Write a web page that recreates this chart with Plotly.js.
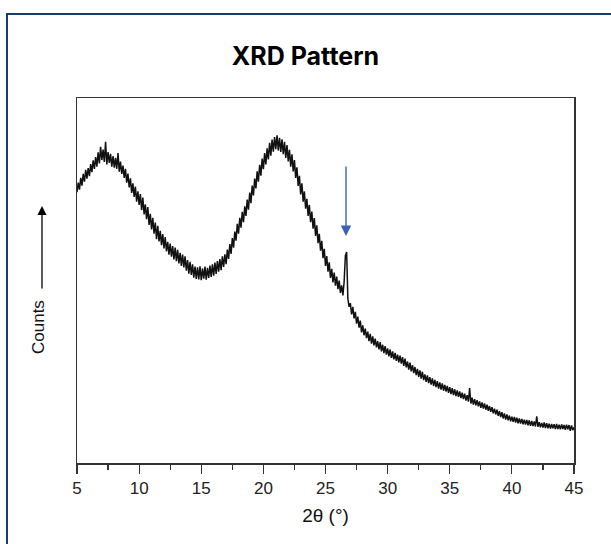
<!DOCTYPE html>
<html>
<head>
<meta charset="utf-8">
<script src="https://cdn.plot.ly/plotly-3.0.1.min.js"></script>
<style>
html, body { margin: 0; padding: 0; background: #ffffff; overflow: hidden; }
#wrap { position: relative; width: 611px; height: 544px; overflow: hidden; }
#chart { position: absolute; left: 0; top: 0; width: 611px; height: 544px; }
#frame { position: absolute; left: 6px; top: 13px; width: 700px; height: 700px; border: 2px solid #1d3a6e; pointer-events: none; }
</style>
</head>
<body>
<div id="wrap">
  <div id="chart"></div>
  <div id="frame"></div>
</div>
<script>
// Scan grid (degrees 2θ)
const thetaStart = 5.0;
const thetaStep = 0.1;

const counts = [
  742,768,749,781,760,792,771,803,779,808,
  786,819,797,829,806,838,812,851,821,866,
  830,859,825,880,818,852,822,847,812,841,
  809,836,806,849,798,826,792,815,781,806,
  768,793,755,780,740,766,729,757,716,744,
  707,737,693,727,681,709,668,701,652,683,
  640,672,628,659,613,650,607,636,597,627,
  588,619,580,606,571,601,565,594,558,590,
  553,584,547,576,540,571,536,566,527,556,
  519,551,515,544,508,538,504,536,503,539,
  501,533,505,538,502,535,507,541,510,544,
  513,549,518,553,524,559,528,566,537,572,
  545,585,559,600,573,616,590,634,609,655,
  628,672,645,688,660,703,677,722,694,741,
  712,760,733,779,752,799,771,817,787,834,
  805,849,818,862,832,877,842,886,853,893,
  860,898,856,891,852,887,846,880,836,871,
  826,858,812,846,799,830,781,810,759,787,
  736,766,716,744,697,724,677,707,660,689,
  642,671,622,651,602,628,582,609,561,587,
  540,567,524,550,507,532,495,522,486,511,
  476,500,466,487,459,497,568,578,450,428,
  438,407,428,396,414,382,401,371,390,358,
  377,350,368,342,360,334,354,327,347,322,
  341,317,334,311,331,306,324,301,320,297,
  314,292,311,288,306,284,302,280,297,276,
  294,272,290,266,286,262,278,256,275,251,
  268,246,263,241,258,236,254,231,250,227,
  243,222,240,219,235,215,232,211,228,208,
  224,204,221,201,218,198,214,196,211,192,
  208,189,205,186,202,183,199,181,196,178,
  193,175,190,171,186,168,205,163,179,160,
  175,158,172,155,169,151,166,149,163,146,
  160,143,156,140,153,136,149,133,146,129,
  142,126,139,122,136,119,133,117,130,114,
  127,113,126,111,124,109,122,108,121,106,
  119,105,118,103,117,102,115,101,114,100,
  128,99,112,98,110,97,111,96,109,95,
  108,94,107,95,106,93,107,93,105,92,
  106,93,104,91,105,92,104,88,103,90,
  98
];

const xTickVals = [5, 10, 15, 20, 25, 30, 35, 40, 45];
const xTickText = ["5", "10", "15", "20", "25", "30", "35", "40", "45"];

// Marked reflection
const peakTheta = 26.65;
const peakArrowTipCounts = 622;

const theta = counts.map((_, i) => +(thetaStart + i * thetaStep).toFixed(2));

const trace = {
  x: theta,
  y: counts,
  type: 'scatter',
  mode: 'lines',
  line: { color: '#111111', width: 1.5 },
  hoverinfo: 'skip'
};

const layout = {
  width: 611,
  height: 544,
  margin: { l: 77, r: 37, t: 98, b: 81, pad: 0 },
  paper_bgcolor: '#ffffff',
  plot_bgcolor: '#ffffff',
  showlegend: false,
  font: { family: 'Liberation Sans, Arial, sans-serif', color: '#222222' },
  title: {
    text: 'XRD Pattern',
    font: { family: 'Inter, Lato, sans-serif', size: 25, color: '#000000', weight: 'bold' },
    x: 0.5, xanchor: 'center',
    y: 1 - 56 / 544, yanchor: 'middle', yref: 'container'
  },
  xaxis: {
    range: [5, 45],
    tickmode: 'array',
    tickvals: xTickVals,
    ticktext: xTickText,
    ticks: 'outside',
    ticklen: 9,
    tickwidth: 1.2,
    tickcolor: '#333333',
    minor: { dtick: 2.5, ticks: 'outside', ticklen: 5, tickwidth: 1.2, tickcolor: '#333333' },
    tickfont: { family: 'Liberation Sans, Arial, sans-serif', size: 17, color: '#222222' },
    showline: true,
    linecolor: '#333333',
    linewidth: 1.5,
    mirror: true,
    showgrid: false,
    zeroline: false,
    title: { text: '2θ (°)', font: { family: 'Liberation Sans, Arial, sans-serif', size: 19, color: '#111111' }, standoff: 12 }
  },
  yaxis: {
    range: [0, 1000],
    showticklabels: false,
    ticks: '',
    showline: true,
    linecolor: '#333333',
    linewidth: 1.5,
    mirror: true,
    showgrid: false,
    zeroline: false
  },
  annotations: [
    {
      xref: 'paper', yref: 'paper',
      x: (38 - 77) / 497, y: (463 - 327) / 365,
      text: 'Counts', showarrow: false, textangle: -90,
      font: { family: 'Liberation Sans, Arial, sans-serif', size: 17, color: '#111111' },
      xanchor: 'center', yanchor: 'middle'
    },
    {
      xref: 'paper', yref: 'paper',
      x: (42 - 77) / 497, y: (463 - 206) / 365,
      ax: 0, ay: 84, axref: 'pixel', ayref: 'pixel',
      text: '', showarrow: true,
      arrowhead: 2, arrowsize: 1.4, arrowwidth: 1.3, arrowcolor: '#000000'
    },
    {
      xref: 'x', yref: 'y',
      x: peakTheta, y: peakArrowTipCounts,
      ax: 0, ay: -71,
      text: '', showarrow: true,
      arrowhead: 2, arrowsize: 1.5, arrowwidth: 1.4, arrowcolor: '#3a62b5'
    }
  ]
};

Plotly.newPlot('chart', [trace], layout, { staticPlot: true, displayModeBar: false });
</script>
</body>
</html>
